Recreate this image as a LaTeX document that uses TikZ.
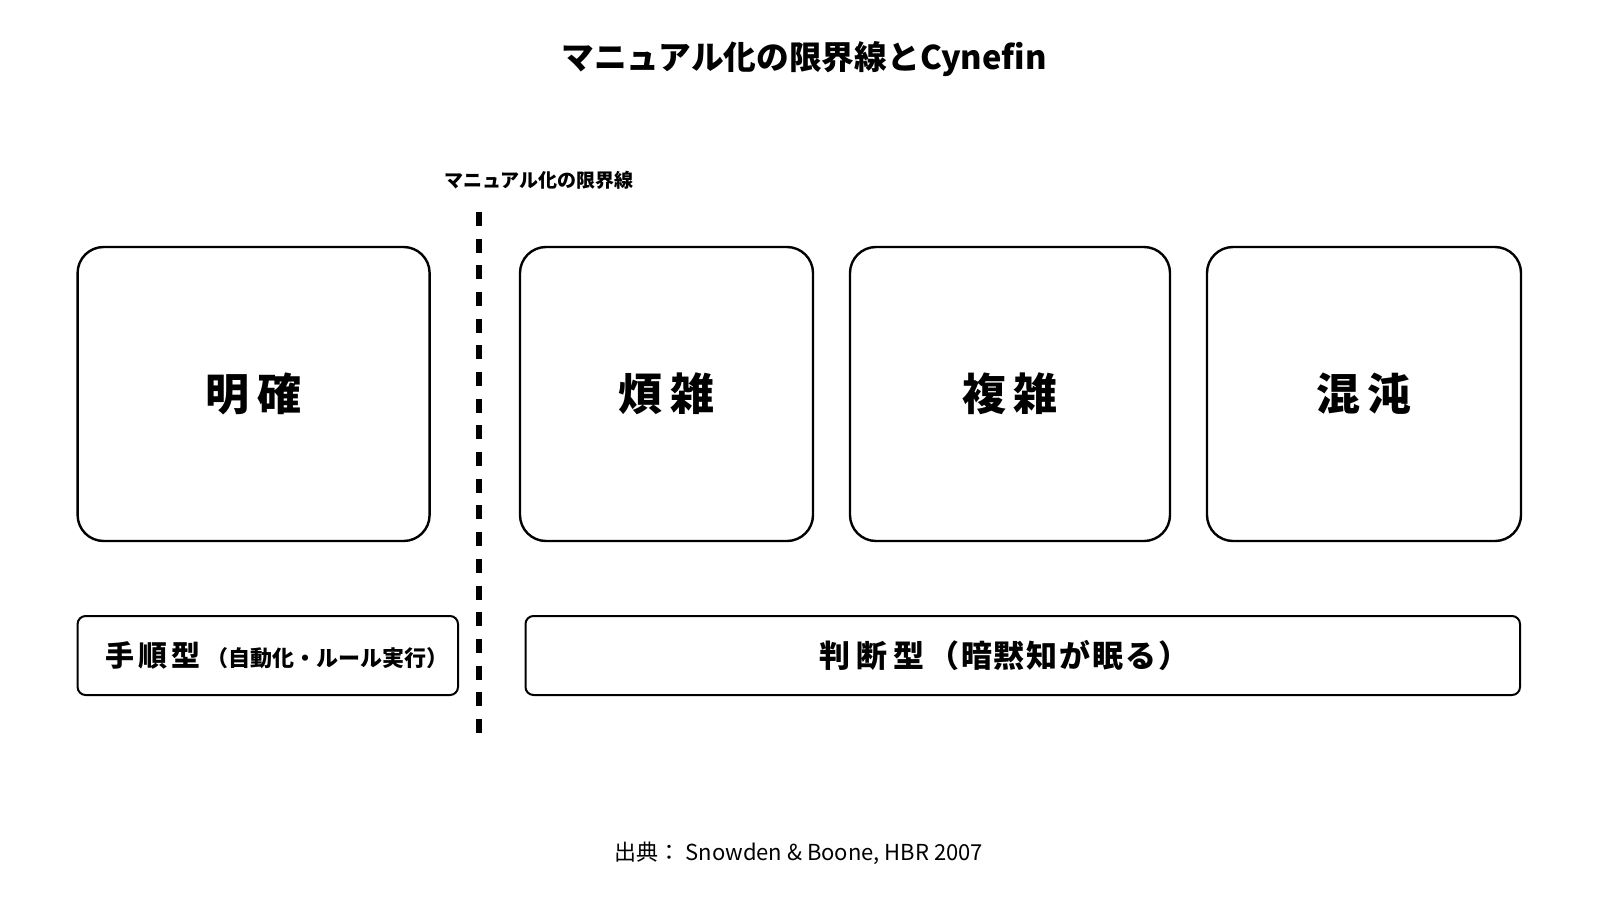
\documentclass[tikz,border=0pt]{standalone}
\usepackage{fontspec}
\setmainfont{Noto Sans CJK JP}
\newfontfamily\jpsp{Noto Sans CJK JP}[LetterSpace=6]
\begin{document}
\begin{tikzpicture}[x=1pt,y=-1pt,
  dom/.style={draw=black,line width=2.4pt,rounded corners=26pt,fill=white},
  bar/.style={draw=black,line width=2pt,rounded corners=8pt,fill=white},
  domtxt/.style={font=\fontsize{44}{50}\selectfont\bfseries},
  bartxt/.style={font=\fontsize{30}{34}\selectfont\bfseries,inner sep=0pt}]
\useasboundingbox (0,0) rectangle (1600,900);
\fill[white] (0,0) rectangle (1600,900);
\node[font=\fontsize{32.7}{38}\selectfont\bfseries] (title) at (804,59) {マニュアル化の限界線とCynefin};
\node[font=\fontsize{19}{23}\selectfont\bfseries] (lbl) at (539,180) {マニュアル化の限界線};
\coordinate (ltop) at (479,212);
\coordinate (lbot) at (479,733);
\draw[line width=5.5pt,dash pattern=on 14pt off 12.68pt] (ltop) -- (lbot);
\draw[dom] (77.6,247) rectangle (429.6,541) node[pos=0.5,domtxt] (d1) {明\,確};
\draw[dom] (520,247) rectangle (813,541) node[pos=0.5,domtxt] (d2) {煩\,雑};
\draw[dom] (850,247) rectangle (1170,541) node[pos=0.5,domtxt] (d3) {複\,雑};
\draw[dom] (1207,247) rectangle (1521,541) node[pos=0.5,domtxt] (d4) {混\,沌};
\draw[bar] (77.6,616) rectangle (458,695);
\node[bartxt,anchor=west,font=\fontsize{29}{34}\selectfont\bfseries] (b1) at (105,655.5) {手\hspace{4pt}順\hspace{4pt}型\hspace{6pt}{\fontsize{22}{26}\selectfont\bfseries （自動化・ルール実行）}};
\draw[bar] (525.5,616) rectangle (1520,695);
\node[bartxt,anchor=west,font=\fontsize{31}{34}\selectfont\bfseries] (b2) at (819,655.5) {判\hspace{6pt}断\hspace{6pt}型\hspace{4pt}{\jpsp\bfseries （暗黙知が眠る）}};
\node[font=\fontsize{22}{26}\selectfont] (src) at (799,853) {出典： Snowden \& Boone, HBR 2007};
\end{tikzpicture}
\end{document}
